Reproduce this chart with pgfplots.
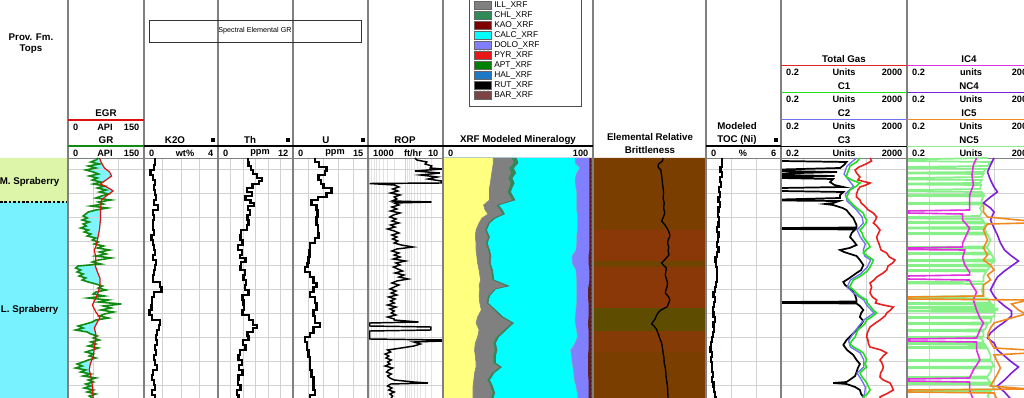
\documentclass[border=0pt]{standalone}
\usepackage{pgfplots}
\pgfplotsset{compat=1.18}
\usepackage{pgfplotstable}
\usetikzlibrary{patterns}
\usepackage{fontspec}
\setmainfont{Liberation Sans}

\definecolor{topsM}{HTML}{DCF5A8}
\definecolor{topsL}{HTML}{78F2FF}
\definecolor{grfill}{HTML}{80F4FF}
\definecolor{grgreen}{HTML}{108A10}
\definecolor{egrred}{HTML}{E01010}
\definecolor{qtz}{HTML}{FFFF80}
\definecolor{ill}{HTML}{808080}
\definecolor{chl}{HTML}{2E8B57}
\definecolor{kao}{HTML}{800000}
\definecolor{calc}{HTML}{00FFFF}
\definecolor{dolo}{HTML}{8080FF}
\definecolor{pyr}{HTML}{FF1010}
\definecolor{apt}{HTML}{008000}
\definecolor{hal}{HTML}{1E78C8}
\definecolor{bar}{HTML}{804040}
\definecolor{strip}{HTML}{5A2020}
\definecolor{brA}{HTML}{7A3F00}
\definecolor{brB}{HTML}{8A3808}
\definecolor{brC}{HTML}{5E4C00}
\definecolor{brD}{HTML}{6E4400}
\definecolor{tg}{HTML}{E82020}
\definecolor{cone}{HTML}{20E020}
\definecolor{ctwo}{HTML}{7070F0}
\definecolor{icfour}{HTML}{E030E0}
\definecolor{ncfour}{HTML}{8020D8}
\definecolor{icfive}{HTML}{F08A20}
\definecolor{ncfive}{HTML}{88F088}
\definecolor{sep}{HTML}{808080}

\newcommand{\hb}{\fontsize{7.3}{8}\selectfont\bfseries}
\newcommand{\hs}{\fontsize{6.9}{8}\selectfont\bfseries}

\pgfplotstableread{
y gr
158 60
160 55
162 45
164 62
166 40
168 55
170 35
172 50
174 60
176 42
178 58
180 48
182 65
184 50
186 72
188 58
190 75
192 62
194 80
196 66
198 55
200 85
202 60
204 70
206 45
208 78
210 55
212 40
214 35
216 30
218 38
220 28
222 42
224 30
226 36
228 25
230 40
232 32
234 45
236 38
238 55
240 48
242 60
244 52
246 70
248 58
250 82
252 62
254 75
256 55
258 85
260 60
262 48
264 65
266 20
268 15
270 25
272 18
274 30
276 22
278 35
280 28
282 40
284 55
286 68
288 60
290 75
292 55
294 50
296 72
298 40
300 80
302 60
304 105
306 70
308 85
310 65
312 90
314 72
316 62
318 80
320 55
322 48
324 35
326 20
328 30
330 15
332 38
334 45
336 58
338 50
340 62
342 45
344 55
346 40
348 60
350 48
352 35
354 50
356 42
358 55
360 40
362 30
364 18
366 28
368 15
370 35
372 25
374 45
376 30
378 55
380 40
382 50
384 35
386 45
388 32
390 50
392 38
394 55
396 42
398 48
400 45
}\grT

\pgfplotstableread{
y egr
158 62
163 66
168 72
172 82
176 86
180 75
184 64
188 80
191 89
195 78
200 66
210 64
220 64
230 62
240 58
245 56
250 52
258 55
266 54
272 58
278 63
285 63
292 60
298 55
305 48
312 55
318 63
322 58
328 52
334 55
340 54
348 52
356 50
364 44
370 42
378 46
386 48
400 50
}\egrT

\pgfplotstableread{
y k
158 0.6
165 0.55
170 0.35
175 0.5
180 0.6
185 0.55
190 0.6
195 0.65
200 0.55
205 0.75
210 0.5
215 0.55
220 0.5
230 0.55
235 0.4
240 0.5
245 0.55
250 0.6
255 0.5
260 0.65
265 0.6
270 0.55
275 0.5
282 0.85
287 0.95
292 0.55
297 0.45
305 0.4
310 0.3
315 0.45
320 0.85
325 0.8
330 0.7
335 0.65
340 0.7
345 0.6
350 0.65
355 0.55
360 0.6
365 0.7
370 0.5
375 0.45
380 0.55
385 0.6
390 0.45
395 0.6
400 0.55
}\kT

\pgfplotstableread{
y th
158 4.8
162 4.9
166 5.3
170 5.6
174 6.2
178 7.0
181 6.6
184 5.5
188 4.6
192 5.4
196 4.4
200 5.2
203 5.8
206 4.8
210 5.1
215 4.7
220 4.9
225 4.6
230 3.7
235 3.6
240 3.9
245 3.2
250 3.8
255 3.5
258 4.4
262 3.7
266 3.6
270 4.3
275 4.1
280 4.5
285 4.3
290 4.9
295 3.9
300 4.1
305 4.2
310 3.9
315 5.0
320 5.6
325 6.2
328 5.6
332 4.7
336 4.9
340 4.0
345 4.4
350 3.5
355 3.3
360 3.8
365 3.4
370 3.9
375 3.3
380 3.2
385 3.6
390 3.0
395 3.3
400 3.5
}\thT

\pgfplotstableread{
y u
158 4.4
162 5.2
167 6.7
171 6.4
175 5.1
180 5.6
184 6.1
188 7.7
193 6.7
197 5.0
200 3.7
205 4.7
210 4.9
217 4.7
225 5.0
233 5.1
238 4.4
243 3.4
250 3.3
257 3.1
263 2.9
267 2.4
272 3.4
277 4.1
283 4.7
287 4.1
292 3.4
297 4.4
303 4.7
310 4.1
316 4.4
323 5.4
327 4.1
333 3.4
337 2.4
342 2.8
350 3.1
357 3.4
363 3.4
370 3.7
377 4.1
383 4.1
390 4.4
395 3.4
400 3.7
}\uT

\pgfplotstableread{
y rop
158 56
160 50
162 27
164 30
166 20
168 22
169 10.5
171 56
173 12
175 40
177 14
179 25
181 11
183 11
183.5 900
185 200
187 150
189 220
191 160
193 250
195 140
197 200
199 170
201 230
202 20
203 200
205 150
207 230
209 170
211 250
213 140
215 210
217 260
219 180
221 230
223 150
225 250
227 190
229 300
231 200
233 150
235 230
237 170
239 220
241 160
243 200
245 130
247 63
249 170
251 230
253 150
255 200
257 140
259 210
261 100
263 180
265 140
267 210
269 160
271 120
273 190
275 110
277 150
279 85
281 170
283 230
285 150
287 200
289 260
291 180
293 240
295 170
297 280
299 190
301 250
303 200
305 300
307 180
309 260
311 200
313 240
315 180
317 300
319 200
320 200
322 45
323 900
326 900
327 21
330 21
331 900
339 900
340 10
341 10
342 60
344 40
346 60
348 130
350 300
352 250
354 350
356 280
358 330
360 240
362 300
364 260
366 350
368 220
370 280
372 320
374 240
376 300
378 260
380 200
382 60
383 25
384 250
386 300
388 230
390 280
392 200
394 260
396 220
398 240
400 260
}\ropT

\pgfplotstableread{
y b1 b2 b3 b4 b5
158 33.5 46 49 88 97.5
163 33.5 47 50 88 97.5
168 33 44 47 91 97.5
173 32.5 45.5 48.5 89 97.5
178 32 43.5 46 88 97.5
183 31.5 45 47.5 88 97.5
188 31 44 46 88.5 97.5
192 31 43 45 89 97.5
200 31 46 48 89 97.5
205 27 35.5 37 89 97.5
210 28 38 39.5 89 97.5
214 30 39.5 41 89.5 97.5
218 26 33.5 35 89.5 97.5
223 24 30 31 89.5 97.5
230 22 28 29 89.5 97.5
237 21.5 30 31 89 97.5
243 22 28.5 29.5 89 97.5
250 22 30 31 88.5 97.5
256 22.5 31 32 86 97
263 23 30.5 31.5 86 97
270 24 32 33 88.5 97.5
280 25 33 34 89 97.5
286 24 42 44 89 97
289 24.5 34 35 89 96.5
296 24 30 31 89 96.5
303 24.5 29 30 89 97
310 25.5 34 35 88.5 97
317 23 38.5 40 88 97
323 22 45.5 47 88 96.5
330 24 40.5 42 89 97
337 23 35.5 37 89.5 97
343 21.5 33.5 35 88 97
350 21 34.5 36 85 97
356 21.5 33.5 35 85.5 96.5
363 22 33.5 35 86 96.5
367 22 37.5 39 86.5 96.5
373 21 32.5 34 87 96.5
380 20.5 29.5 31 87.5 97
386 20 31.5 33 88.5 97
393 20 33 34.5 89.5 97
400 20 31.5 33 90 97
}\minT

\pgfplotstableread{
y br
158 .62
161 .615
164 .58
167 .575
170 .60
174 .605
178 .61
183 .615
188 .62
193 .625
198 .62
203 .63
208 .625
213 .635
218 .62
221 .607
225 .637
229 .66
233 .675
236 .681
240 .665
243 .66
247 .67
251 .665
255 .672
259 .64
263 .607
266 .63
268 .65
271 .645
275 .64
279 .65
283 .66
287 .655
290 .645
293 .64
297 .67
300 .68
303 .67
307 .655
310 .6
313 .575
316 .56
319 .549
322 .53
324 .519
326 .54
329 .56
333 .575
338 .59
343 .607
348 .615
353 .62
358 .628
363 .63
368 .64
373 .645
378 .648
383 .655
388 .66
393 .662
400 .665
}\brT

\pgfplotstableread{
y toc
158 1.3
162 1.25
167 1.15
172 1.25
177 1.1
182 1.2
187 1.05
192 1.1
197 1.0
202 1.1
207 1.0
212 0.95
217 1.05
222 1.0
227 0.9
232 1.0
237 0.95
242 0.9
247 1.0
252 0.85
257 0.75
262 0.8
267 0.9
272 0.85
277 0.9
282 0.8
287 0.7
292 0.6
297 0.7
302 0.65
307 0.55
312 0.6
317 0.7
322 0.6
327 0.65
332 0.55
337 0.5
342 0.4
347 0.35
352 0.45
357 0.4
362 0.5
367 0.45
372 0.55
377 0.5
382 0.6
387 0.65
392 0.7
397 0.8
400 0.75
}\tocT

\pgfplotstableread{
y v
158 134
161 150
164 100
167 60
170 45
173 50
177 64
180 55
183 134
185 100
187 64
190 55
194 50
197 50
200 64
203 70
206 90
210 118
213 170
217 218
220 200
223 171
226 220
230 278
233 250
237 218
240 230
244 260
247 278
250 300
253 453
257 550
260 832
263 700
266 500
270 453
273 350
277 218
280 180
283 134
287 150
290 140
293 134
297 160
300 218
303 200
305 350
307 736
310 600
313 453
316 400
320 278
323 200
327 134
330 120
333 110
337 105
340 115
344 120
347 134
350 300
353 453
356 350
360 278
363 320
367 355
370 330
373 290
377 278
380 350
383 577
386 650
390 736
393 500
397 278
400 300
}\tgT

\pgfplotstableread{
y v
158 64
162 50
166 31
170 28
174 25
177 24
180 35
183 64
186 50
190 31
194 27
197 24
201 30
205 39.5
210 60
213 82
217 90
220 105
223 100
227 80
230 64
233 75
237 82
240 95
244 120
247 134
250 100
253 82
256 110
260 171
264 150
267 134
271 110
274 82
277 60
280 39.5
283 35
287 30
290 40
293 50
297 70
300 105
303 110
306 134
310 170
313 218
317 150
320 105
324 90
327 70
330 55
333 50
337 45
341 35
344 31
347 40
350 60
353 82
357 95
360 105
364 90
367 105
370 80
373 64
377 75
380 90
383 105
387 120
390 134
394 110
397 82
400 90
}\conT

\pgfplotstableread{
y v
158 50
166 25
174 20
180 28
186 40
194 22
201 25
210 50
217 75
223 82
230 52
237 66
244 95
250 82
256 90
260 140
267 110
274 66
280 32
287 25
293 40
300 85
306 110
313 180
320 85
327 56
333 40
341 28
347 32
353 66
360 85
367 85
373 52
380 72
387 95
394 90
400 72
}\ctwT

\pgfplotstableread{
y v
158 0.2
161 0.2
162 24
165 20
168 15
169.5 0.2
171 0.2
172 12
173.5 0.2
175 0.2
176 10
177 0.2
178 0.2
179 9
182 7.2
185 10
187 19
188 0.2
191 0.2
192 19
195 15
198 14.9
199.5 0.2
200.5 0.2
201 14
203 9.2
204 5
205 9
208 18
210 24
214 30
218 39.5
222 45
225 50
227.5 50
228 0.2
229 0.2
229.5 45
233 35
237 31
241 40
245 50
248 30
250 14.9
252 20
256 50
260 64
265 82
270 70
273 50
278 30
282 19
285 21.5
290 35
295 45
300 50
301.5 50
302 0.2
303 0.2
303.5 50
306 64
310 82
313 70
317 64
321 82
326 64
330 50
335 35
340 24
345 19
350 25
355 39.5
360 50
364 64
368 55
372 50
376 45
380 30
382 24
383 9
384 24
387 45
390 64
394 70
397 82
400 82
}\cthT

\pgfplotstableread{
y v
158 60
159.5 0.2
161 0.2
162 74
166 60
167 0.2
168 0.2
169 55
172 45
172.5 0.2
173.5 0.2
174 45
177 40
178 0.2
179.5 0.2
180 40
183 35
183.5 0.2
184.5 0.2
185 38
189 35
190 0.2
191.5 0.2
192 40
194.5 45
195 0.2
196 0.2
196.5 45
200 40
202.5 40
203 0.2
204 0.2
204.5 45
208 35
212 40
216 35
217 0.2
218.5 0.2
219 40
221.5 45
222 0.2
223 0.2
223.5 60
227 45
227.5 0.2
228.5 0.2
229 50
232.5 55
233 0.2
234 0.2
234.5 60
240 74
246.5 60
247 0.2
248 0.2
248.5 60
252.5 74
253 0.2
254 0.2
254.5 80
259.5 95
260 0.2
261 0.2
261.5 95
264.5 74
265 0.2
266 0.2
266.5 74
269.5 60
270 0.2
271 0.2
271.5 55
276 45
281.5 45
282 0.2
283.5 0.2
284 45
290 40
296 45
297 0.2
298 0.2
298.5 60
302.5 74
303 0.2
304 0.2
304.5 95
306.5 95
307 0.2
308 0.2
308.5 121
310 121
310.5 0.2
311.5 0.2
312 100
316.5 95
317 0.2
318 0.2
318.5 80
322.5 74
323 0.2
324 0.2
324.5 60
329.5 50
330 0.2
331 0.2
331.5 45
336.5 45
337 0.2
338 0.2
338.5 40
342.5 45
343 0.2
344 0.2
344.5 50
346.5 55
347 0.2
348 0.2
348.5 60
355 74
359.5 74
360 0.2
361 0.2
361.5 80
366.5 95
367 0.2
368 0.2
368.5 80
372 74
376.5 60
377 0.2
378 0.2
378.5 60
382.5 74
383 0.2
384 0.2
384.5 80
389.5 95
390 0.2
391 0.2
391.5 74
396 60
400 74
}\ncfT

\pgfplotstableread{
y v
158 27.6
165 22
175 20
185 22
195 17
205 16.8
210 16.8
211 0.2
213 0.2
214 10.3
220 10.3
228 16.8
236 13
243 10.3
247 10.3
248 0.2
249.5 0.2
250 12
258 10.3
265 12
272 16.8
275 16.8
276 0.2
279 0.2
280 16.8
285 20
292 27.6
300 22
310 27.6
318 35
323 45
330 35
338 27.6
339 0.2
341 0.2
342 27.6
350 27.6
360 35
370 22
378 16.8
379 0.2
381 0.2
382 16.8
390 16.8
400 22
}\icfT

\pgfplotstableread{
y v
158 95
165 74
172 60
180 74
187 95
192 121
197 74
203 45
208 74
212 95
220 74
228 95
235 121
243 150
250 200
256 328
261 538
266 328
271 200
277 121
283 95
290 74
296 95
300 121
306 200
311 328
316 328
322 200
327 121
333 74
338 60
343 95
350 121
356 200
362 328
367 538
373 328
380 200
386 121
392 200
400 328
}\ncT

\pgfplotstableread{
y v
205 45
212 45
217 60
221 1125
223 1125
224 60
230 45
240 60
248 45
255 60
260 45
265 74
270 95
275 60
280 74
285 45
296 45
297 0.2
299 0.2
300 1125
304 328
310 538
314 883
318 328
323 95
328 74
335 60
342 74
348 95
350 1125
353 1125
355 95
362 121
368 150
374 121
380 95
386 74
389 1125
390 0.2
392 0.2
393 95
400 121
}\icvT

\pgfplotsset{
  trk/.style={anchor=north west, scale only axis, height=181.5pt,
    ymin=158, ymax=400, y dir=reverse,
    ytick={169,193,...,385}, yticklabels={}, xticklabels={},
    major tick length=0pt, minor tick length=0pt,
    ymajorgrids, major grid style={draw=gray!35, line width=0.5pt},
    minor grid style={draw=gray!22, line width=0.4pt},
    axis line style={draw=sep, line width=0.5pt}},
  bare/.style={anchor=north west, scale only axis, height=181.5pt,
    ymin=158, ymax=400, y dir=reverse, xtick=\empty, ytick=\empty,
    axis line style={draw=none}},
  thk/.style={black, line width=1.7pt, const plot mark right},
}

\begin{document}
\begin{tikzpicture}

% ---------- Tops track
\begin{axis}[bare, at={(0pt,-118.5pt)}, width=51pt, xmin=0, xmax=1]
\addplot[fill=topsM, draw=none] coordinates {(0,158) (1,158) (1,202) (0,202) (0,158)};
\addplot[fill=topsL, draw=none] coordinates {(0,202) (1,202) (1,400) (0,400) (0,202)};
\addplot[black, line width=0.8pt, dash pattern=on 2pt off 1.3pt] coordinates {(0,202) (1,202)};
\end{axis}

% ---------- GR track fills (cyan where GR < EGR)
\begin{axis}[bare, at={(51pt,-118.5pt)}, width=57pt, xmin=0, xmax=150]
\addplot[fill=grfill, draw=none] table[x=egr, y=y] {\egrT} -- (axis cs:0,400) -- (axis cs:0,158) -- cycle;
\addplot[fill=white, draw=none] table[x=gr, y=y] {\grT} -- (axis cs:0,400) -- (axis cs:0,158) -- cycle;
\end{axis}
\begin{axis}[trk, at={(51pt,-118.5pt)}, width=57pt, xmin=0, xmax=150, xtick={50,100}, xmajorgrids]
\addplot[grgreen, line width=1.2pt] table[x=gr, y=y] {\grT};
\addplot[egrred, line width=0.9pt] table[x=egr, y=y] {\egrT};
\end{axis}

% ---------- K2O
\begin{axis}[trk, at={(108pt,-118.5pt)}, width=55.5pt, xmin=0, xmax=4, xtick={1,2,3}, xmajorgrids]
\addplot[thk] table[x=k, y=y] {\kT};
\end{axis}
% ---------- Th
\begin{axis}[trk, at={(163.5pt,-118.5pt)}, width=56.25pt, xmin=0, xmax=12, xtick={2,4,...,10}, xmajorgrids]
\addplot[thk] table[x=th, y=y] {\thT};
\end{axis}
% ---------- U
\begin{axis}[trk, at={(219.75pt,-118.5pt)}, width=56.25pt, xmin=0, xmax=15, xtick={3,6,9,12}, xmajorgrids]
\addplot[thk] table[x=u, y=y] {\uT};
\end{axis}
% ---------- ROP
\begin{axis}[trk, xmode=log, xmajorgrids, xminorgrids, at={(276pt,-118.5pt)}, width=56.25pt, xmin=10, xmax=1000, x dir=reverse]
\addplot[black, line width=1.1pt] table[x=rop, y=y] {\ropT};
\end{axis}

% ---------- XRF mineralogy (stacked, painted from right to left)
\begin{axis}[bare, at={(332.25pt,-118.5pt)}, width=112.5pt, xmin=0, xmax=100]
\addplot[fill=strip, draw=none] coordinates {(0,158) (100,158) (100,400) (0,400) (0,158)};
\addplot[fill=dolo, draw=none] table[x=b5, y=y] {\minT} -- (axis cs:0,400) -- (axis cs:0,158) -- cycle;
\addplot[fill=calc, draw=none] table[x=b4, y=y] {\minT} -- (axis cs:0,400) -- (axis cs:0,158) -- cycle;
\addplot[fill=chl, draw=none] table[x=b3, y=y] {\minT} -- (axis cs:0,400) -- (axis cs:0,158) -- cycle;
\addplot[fill=ill, draw=none] table[x=b2, y=y] {\minT} -- (axis cs:0,400) -- (axis cs:0,158) -- cycle;
\addplot[fill=qtz, draw=none] table[x=b1, y=y] {\minT} -- (axis cs:0,400) -- (axis cs:0,158) -- cycle;
\addplot[black!50, line width=0.4pt] table[x=b1, y=y] {\minT};
\addplot[black!60, line width=0.4pt] table[x=b3, y=y] {\minT};
\addplot[black!35, line width=0.3pt] table[x=b4, y=y] {\minT};
\addplot[pyr, line width=0.8pt, dash pattern=on 2pt off 1pt] coordinates {(98.8,158) (98.8,400)};
\end{axis}

% ---------- Brittleness
\begin{axis}[bare, at={(444.75pt,-118.5pt)}, width=84.75pt, xmin=0, xmax=1]
\addplot[fill=brA, draw=none] coordinates {(0,158) (1,158) (1,230) (0,230) (0,158)};
\addplot[fill=brB, draw=none] coordinates {(0,230) (1,230) (1,261) (0,261) (0,230)};
\addplot[fill=brD, draw=none] coordinates {(0,261) (1,261) (1,267) (0,267) (0,261)};
\addplot[fill=brB, draw=none] coordinates {(0,267) (1,267) (1,308) (0,308) (0,267)};
\addplot[fill=brC, draw=none] coordinates {(0,308) (1,308) (1,331) (0,331) (0,308)};
\addplot[fill=brB!60!brA, draw=none] coordinates {(0,331) (1,331) (1,352) (0,352) (0,331)};
\addplot[fill=brA, draw=none] coordinates {(0,352) (1,352) (1,400) (0,400) (0,352)};
\addplot[black, line width=1pt] table[x=br, y=y] {\brT};
\end{axis}

% ---------- TOC
\begin{axis}[trk, at={(529.5pt,-118.5pt)}, width=56.25pt, xmin=0, xmax=6, xtick={2,4}, xmajorgrids]
\addplot[thk] table[x=toc, y=y] {\tocT};
\end{axis}

% ---------- Gas
\begin{axis}[trk, xmode=log, xmajorgrids, xminorgrids, at={(585.75pt,-118.5pt)}, width=94.5pt, xmin=0.2, xmax=2000]
\addplot[black, line width=1.3pt] table[x=v, y=y] {\cthT};
\addplot[ctwo, line width=1pt] table[x=v, y=y] {\ctwT};
\addplot[cone, line width=1.2pt] table[x=v, y=y] {\conT};
\addplot[tg, line width=1.2pt] table[x=v, y=y] {\tgT};
\end{axis}

% ---------- IC4 etc
\begin{axis}[trk, xmode=log, xmajorgrids, xminorgrids, at={(680.25pt,-118.5pt)}, width=97.5pt, xmin=0.2, xmax=2000]
\addplot[ncfive, line width=1.3pt] table[x=v, y=y] {\ncfT};
\addplot[icfour, line width=1.2pt] table[x=v, y=y] {\icfT};
\addplot[ncfour, line width=1.2pt] table[x=v, y=y] {\ncT};
\addplot[icfive, line width=1.2pt] table[x=v, y=y] {\icvT};
\end{axis}

\begin{scope}[x=0.75pt, y=-0.75pt]
\node[anchor=east, font=\hb] at (64,182) {M. Spraberry};
\node[anchor=east, font=\hb] at (63,310) {L. Spraberry};

% ---------- track separators
\foreach \xx in {68,144,218,293,368,443,593,706,781,907}
  \draw[sep, line width=0.8pt] (\xx,0) -- (\xx,398);

% ---------- headers
\node[font=\hb] at (31,37) {Prov. Fm.};
\node[font=\hb] at (31,49) {Tops};

% GR
\node[font=\hb] at (106,113) {EGR};
\draw[egrred, line width=1.2pt] (68,120) -- (144,120);
\node[font=\hs, anchor=west] at (68.5,127) {0};
\node[font=\hs] at (105,127) {API};
\node[font=\hs, anchor=east] at (144,127) {150};
\node[font=\hb] at (106,140) {GR};
\draw[grgreen, line width=1.2pt] (68,146) -- (144,146);
\node[font=\hs, anchor=west] at (68.5,153) {0};
\node[font=\hs] at (105,153) {API};
\node[font=\hs, anchor=east] at (144,153) {150};

% Spectral box
\draw[black!80, line width=0.6pt] (149,20) rectangle (361,42);
\node[font=\fontsize{5.4}{6}\selectfont] at (255,31) {Spectral Elemental GR};

% K2O
\node[font=\hb] at (175,140) {K2O};
\fill (210.5,138) rectangle (214.5,142);
\draw[black, line width=1pt] (144,146) -- (218,146);
\node[font=\hs, anchor=west] at (144.5,153) {0};
\node[font=\hs] at (185,153) {wt\%};
\node[font=\hs, anchor=east] at (218,153) {4};
% Th
\node[font=\hb] at (250,140) {Th};
\fill (285.5,138) rectangle (289.5,142);
\draw[black, line width=1pt] (218,146) -- (293,146);
\node[font=\hs, anchor=west] at (218.5,153) {0};
\node[font=\hs] at (260,153) {ppm};
\node[font=\hs, anchor=east] at (293,153) {12};
% U
\node[font=\hb] at (326,140) {U};
\fill (360.5,138) rectangle (364.5,142);
\draw[black, line width=1pt] (293,146) -- (368,146);
\node[font=\hs, anchor=west] at (293.5,153) {0};
\node[font=\hs] at (335,153) {ppm};
\node[font=\hs, anchor=east] at (368,153) {15};
% ROP
\node[font=\hb] at (405,140) {ROP};
\draw[black, line width=1pt] (368,146) -- (443,146);
\node[font=\hs, anchor=west] at (368.5,153) {1000};
\node[font=\hs] at (413,153) {ft/hr};
\node[font=\hs, anchor=east] at (443,153) {10};
% XRF
\node[font=\hb] at (518,140) {XRF Modeled Mineralogy};
\draw[black, line width=1pt] (443,146) -- (593,146);
\node[font=\hs, anchor=west] at (443.5,153) {0};
\node[font=\hs, anchor=east] at (593,153) {100};
% legend
\draw[black!70, fill=white, line width=0.6pt] (469,-8) rectangle (581,106);
\begin{scope}[font=\fontsize{6.3}{7}\selectfont]
\foreach \yy/\cc/\tt in {5/ill/ILL\_XRF, 15/chl/CHL\_XRF, 25/kao/KAO\_XRF, 35/calc/CALC\_XRF, 45/dolo/DOLO\_XRF, 55/pyr/PYR\_XRF, 65/apt/APT\_XRF, 75/hal/HAL\_XRF, 85/black/RUT\_XRF, 95/bar/BAR\_XRF}{
  \fill[\cc, draw=black!60, line width=0.4pt] (474,\yy-4) rectangle (491,\yy+4);
  \node[anchor=west, inner sep=0pt] at (494,\yy) {\tt};
}
\fill[pattern=crosshatch dots, pattern color=black!70] (474,51) rectangle (491,59);
\fill[pattern=crosshatch dots, pattern color=black!60] (474,91) rectangle (491,99);
\end{scope}
% Brittleness
\node[font=\hb] at (650,137) {Elemental Relative};
\node[font=\hb] at (650,150) {Brittleness};
% TOC
\node[font=\hb] at (737,126) {Modeled};
\node[font=\hb] at (737,140) {TOC (Ni)};
\fill (773.5,138) rectangle (777.5,142);
\draw[black, line width=1pt] (706,146) -- (781,146);
\node[font=\hs, anchor=west] at (706.5,153) {0};
\node[font=\hs] at (743,153) {\%};
\node[font=\hs, anchor=east] at (781,153) {6};
% Gas
\foreach \yy/\nm/\cc in {59/Total Gas/tg, 86/C1/cone, 113/C2/ctwo, 140/C3/black}{
  \node[font=\hb] at (844,\yy) {\nm};
  \draw[\cc, line width=1.2pt] (781,\yy+6.5) -- (907,\yy+6.5);
  \node[font=\hs, anchor=west] at (781.5,\yy+13) {0.2};
  \node[font=\hs] at (844,\yy+13) {Units};
  \node[font=\hs, anchor=east] at (907,\yy+13) {2000};
}
% IC
\foreach \yy/\nm/\cc/\un in {59/IC4/icfour/units, 86/NC4/ncfour/Units, 113/IC5/icfive/Units, 140/NC5/ncfive/Units}{
  \node[font=\hb] at (969,\yy) {\nm};
  \draw[\cc, line width=1.2pt] (907,\yy+6.5) -- (1037,\yy+6.5);
  \node[font=\hs, anchor=west] at (907.5,\yy+13) {0.2};
  \node[font=\hs] at (971,\yy+13) {\un};
  \node[font=\hs, anchor=east] at (1037,\yy+13) {2000};
}
\end{scope}
\pgfresetboundingbox
\useasboundingbox (0pt,0pt) rectangle (768pt,-298.5pt);
\end{tikzpicture}
\end{document}
